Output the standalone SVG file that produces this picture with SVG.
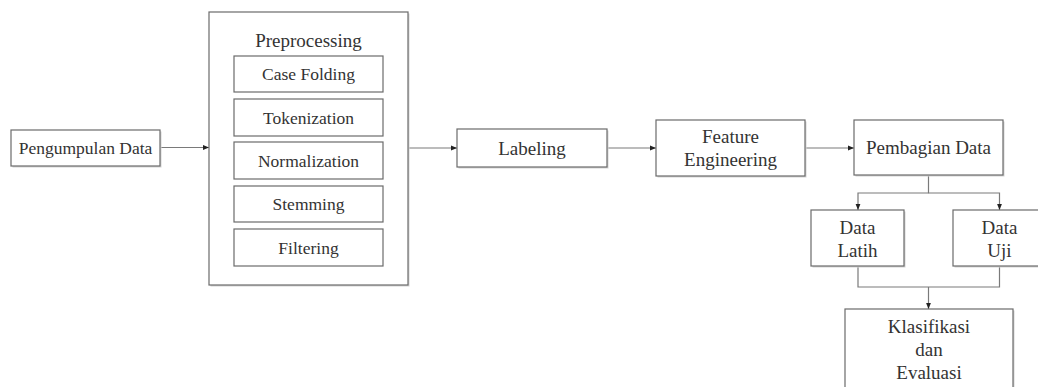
<svg xmlns="http://www.w3.org/2000/svg" width="1038" height="387" viewBox="0 0 1038 387">
<style>
.box{fill:#fff;stroke:#6b6b6b;stroke-width:1.2}
.sh{fill:#d4d4d4}
text{font-family:'Liberation Serif',serif;fill:#333;text-anchor:middle}
.s{font-size:17.5px}
.l{font-size:19px}
.c{fill:none;stroke:#7a7a7a;stroke-width:1.2}
</style>
<defs>
<marker id="ah" viewBox="0 0 10 10" refX="10" refY="5" markerWidth="6" markerHeight="6" orient="auto" markerUnits="userSpaceOnUse">
<path d="M0,1 L10,5 L0,9 Z" fill="#222"/>
</marker>
</defs>
<rect width="1038" height="387" fill="#fff"/>
<g id="connectors">
<line class="c" x1="161" y1="147.5" x2="209" y2="147.5" marker-end="url(#ah)"/>
<line class="c" x1="408" y1="148" x2="457" y2="148" marker-end="url(#ah)"/>
<line class="c" x1="607" y1="148" x2="656" y2="148" marker-end="url(#ah)"/>
<line class="c" x1="805" y1="148" x2="854" y2="148" marker-end="url(#ah)"/>
<path class="c" d="M928.5,175 V193 H858 V210" marker-end="url(#ah)"/>
<path class="c" d="M928.5,193 H999.5 V210" marker-end="url(#ah)"/>
<path class="c" d="M858,266 V287 H999.5 V266"/>
<line class="c" x1="928.5" y1="287" x2="928.5" y2="309" marker-end="url(#ah)"/>
</g>
<g id="pengumpulan">
<rect class="sh" x="12.5" y="131.5" width="149" height="36"/>
<rect class="box" x="11" y="130" width="149" height="36"/>
<text class="s" x="85.5" y="153.5" font-family="Liberation Serif">Pengumpulan Data</text>
</g>
<g id="preprocessing">
<rect class="sh" x="210.5" y="13.5" width="199" height="273"/>
<rect class="box" x="209" y="12" width="199" height="273"/>
<text class="l" x="308.5" y="47" font-family="Liberation Serif">Preprocessing</text>
</g>
<g id="casefolding">
<rect class="box" x="234" y="56" width="149" height="36"/>
<text class="s" x="308.5" y="80" font-family="Liberation Serif">Case Folding</text>
</g>
<g id="tokenization">
<rect class="box" x="234" y="99" width="149" height="37"/>
<text class="s" x="308.5" y="123.5" font-family="Liberation Serif">Tokenization</text>
</g>
<g id="normalization">
<rect class="box" x="234" y="142" width="149" height="37"/>
<text class="s" x="308.5" y="166.5" font-family="Liberation Serif">Normalization</text>
</g>
<g id="stemming">
<rect class="box" x="234" y="186" width="149" height="36"/>
<text class="s" x="308.5" y="210" font-family="Liberation Serif">Stemming</text>
</g>
<g id="filtering">
<rect class="box" x="234" y="229" width="149" height="37"/>
<text class="s" x="308.5" y="253.5" font-family="Liberation Serif">Filtering</text>
</g>
<g id="labeling">
<rect class="sh" x="458.5" y="130.5" width="150" height="38"/>
<rect class="box" x="457" y="129" width="150" height="38"/>
<text class="l" x="532" y="154.5" font-family="Liberation Serif">Labeling</text>
</g>
<g id="feature">
<rect class="sh" x="657.5" y="121.5" width="149" height="56"/>
<rect class="box" x="656" y="120" width="149" height="56"/>
<text class="l" x="730.5" y="143" font-family="Liberation Serif">Feature</text>
<text class="l" x="730.5" y="166" font-family="Liberation Serif">Engineering</text>
</g>
<g id="pembagian">
<rect class="sh" x="855.5" y="121.5" width="149" height="55"/>
<rect class="box" x="854" y="120" width="149" height="55"/>
<text class="l" x="928.5" y="154" font-family="Liberation Serif">Pembagian Data</text>
</g>
<g id="latih">
<rect class="sh" x="812.5" y="211.5" width="93" height="56"/>
<rect class="box" x="811" y="210" width="93" height="56"/>
<text class="l" x="857.5" y="233.5" font-family="Liberation Serif">Data</text>
<text class="l" x="857.5" y="257" font-family="Liberation Serif">Latih</text>
</g>
<g id="uji">
<rect class="sh" x="954.5" y="211.5" width="93" height="56"/>
<rect class="box" x="953" y="210" width="93" height="56"/>
<text class="l" x="999.5" y="233.5" font-family="Liberation Serif">Data</text>
<text class="l" x="999.5" y="257" font-family="Liberation Serif">Uji</text>
</g>
<g id="klasifikasi">
<rect class="sh" x="846.5" y="310.5" width="168" height="90"/>
<rect class="box" x="845" y="309" width="168" height="90"/>
<text class="l" x="929" y="333" font-family="Liberation Serif">Klasifikasi</text>
<text class="l" x="929" y="356" font-family="Liberation Serif">dan</text>
<text class="l" x="929" y="379" font-family="Liberation Serif">Evaluasi</text>
</g>
</svg>
